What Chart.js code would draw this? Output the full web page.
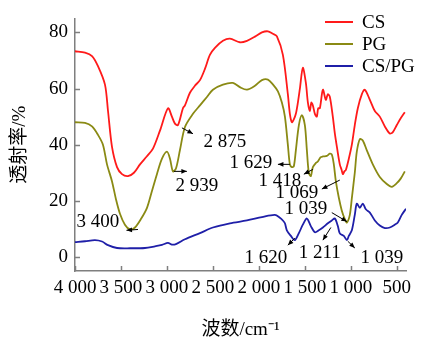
<!DOCTYPE html>
<html>
<head>
<meta charset="utf-8">
<script src="https://cdn.jsdelivr.net/npm/chart.js@4/dist/chart.umd.min.js"></script>
<style>
  html, body { margin: 0; padding: 0; background: #ffffff; }
  #wrap { width: 423px; height: 341px; }
</style>
</head>
<body>
<div id="wrap"><canvas id="c" width="423" height="341"></canvas></div>
<script>
// Axis ticks
const xTicks = [4000, 3500, 3000, 2500, 2000, 1500, 1000, 500];
const xTickLabels = ['4 000', '3 500', '3 000', '2 500', '2 000', '1 500', '1 000', '500'];
const yTicks = [0, 20, 40, 60, 80];

// CS spectrum (wavenumber / cm-1, transmittance / %)
const csWavenumber = [4000, 3891, 3815, 3750, 3674, 3641, 3598, 3543, 3489, 3424, 3359, 3293, 3220, 3152, 3076, 2989, 2946, 2913, 2880, 2826, 2804, 2750, 2696, 2641, 2587, 2533, 2478, 2391, 2315, 2207, 2130, 2043, 1967, 1902, 1848, 1804, 1739, 1685, 1663, 1641, 1620, 1598, 1576, 1554, 1522, 1489, 1467, 1446, 1430, 1413, 1391, 1370, 1355, 1337, 1304, 1272, 1250, 1228, 1196, 1174, 1152, 1120, 1100, 1087, 1070, 1054, 1022, 989, 957, 924, 880, 848, 793, 739, 685, 630, 576, 543, 500, 456, 413];
const csTransmittance = [73.3, 72.8, 71.6, 68.0, 61.4, 52.0, 39.3, 32.0, 29.5, 28.8, 30.0, 33.0, 35.8, 38.6, 45.0, 53.0, 50.0, 47.5, 47.0, 53.0, 54.0, 58.5, 61.0, 63.0, 67.0, 72.0, 74.5, 77.0, 77.8, 76.5, 77.0, 78.5, 80.0, 80.4, 79.5, 78.6, 72.0, 58.0, 51.0, 48.0, 49.0, 51.0, 55.0, 60.0, 67.4, 62.0, 55.0, 52.0, 55.0, 54.0, 51.0, 50.0, 53.0, 53.0, 59.6, 56.0, 58.0, 57.0, 50.0, 44.0, 39.3, 33.0, 31.0, 29.5, 30.5, 31.0, 35.0, 40.0, 47.0, 53.0, 58.0, 59.6, 56.0, 52.0, 50.0, 46.5, 44.0, 44.5, 47.0, 49.5, 51.6];

// PG spectrum
const pgWavenumber = [4000, 3891, 3815, 3750, 3696, 3652, 3598, 3554, 3511, 3457, 3402, 3348, 3283, 3217, 3163, 3109, 3054, 3000, 2967, 2935, 2902, 2859, 2804, 2717, 2641, 2565, 2500, 2391, 2283, 2207, 2130, 2043, 1967, 1902, 1848, 1793, 1750, 1717, 1685, 1663, 1641, 1620, 1598, 1565, 1533, 1500, 1478, 1457, 1435, 1413, 1380, 1359, 1330, 1304, 1261, 1230, 1207, 1185, 1163, 1130, 1098, 1065, 1043, 1011, 989, 957, 935, 902, 870, 826, 761, 685, 609, 554, 500, 456, 413];
const pgTransmittance = [48.0, 47.8, 46.5, 43.5, 40.0, 33.0, 27.0, 20.5, 15.4, 11.5, 9.8, 10.5, 13.5, 17.5, 23.5, 29.5, 35.0, 37.5, 35.0, 30.5, 31.5, 38.0, 46.3, 51.0, 54.0, 57.0, 59.6, 61.4, 62.0, 60.5, 59.6, 61.0, 63.0, 63.2, 61.5, 59.0, 55.0, 50.0, 40.0, 33.0, 32.0, 32.3, 38.0, 47.0, 50.5, 47.0, 38.0, 30.0, 28.8, 32.0, 33.5, 34.0, 35.5, 35.8, 36.0, 36.8, 36.5, 33.0, 27.0, 21.0, 16.5, 13.5, 12.3, 15.0, 21.0, 30.0, 37.5, 42.0, 41.5, 38.0, 33.0, 28.5, 26.0, 25.0, 26.3, 28.0, 30.5];

// CS/PG spectrum
const cspgWavenumber = [4000, 3891, 3783, 3706, 3641, 3543, 3402, 3239, 3130, 3054, 2989, 2946, 2902, 2804, 2641, 2500, 2315, 2130, 1967, 1826, 1772, 1739, 1717, 1696, 1652, 1609, 1565, 1522, 1478, 1435, 1391, 1348, 1304, 1250, 1207, 1174, 1141, 1120, 1076, 1043, 1022, 989, 957, 935, 902, 870, 837, 793, 739, 685, 630, 576, 522, 489, 446, 400];
const cspgTransmittance = [5.3, 5.6, 6.0, 5.5, 4.2, 3.2, 3.1, 3.2, 3.8, 4.3, 5.0, 4.4, 4.6, 6.3, 8.5, 10.5, 12.0, 13.0, 14.2, 15.0, 14.0, 13.0, 12.0, 9.5, 7.5, 6.0, 8.5, 11.5, 13.7, 11.0, 8.8, 9.5, 10.5, 12.0, 13.0, 13.7, 11.0, 8.4, 7.5, 6.0, 7.5, 9.5, 15.0, 19.0, 17.5, 19.0, 17.0, 15.8, 13.0, 11.2, 10.3, 10.5, 11.5, 12.3, 15.0, 17.2];

// Peak assignments: label text, label centre and arrow ends in data units
const peakNotes = [
  { text: '2 875', at: [2370, 41.0], from: [2837, 46.0], to: [2717, 43.9] },
  { text: '2 939', at: [2674, 25.3], from: [2924, 30.5], to: [2783, 30.5] },
  { text: '3 400', at: [3750, 12.3], from: [3315, 9.8], to: [3440, 9.5] },
  { text: '1 629', at: [2087, 33.3], from: [1663, 33.0], to: [1793, 33.0] },
  { text: '1 418', at: [1772, 27.0], from: [1413, 31.2], to: [1511, 29.5] },
  { text: '1 069', at: [1587, 22.8], from: [1120, 27.4], to: [1315, 24.2] },
  { text: '1 039', at: [1489, 17.2], from: [1207, 15.8], to: [1043, 12.6] },
  { text: '1 620', at: [1924, -0.35], from: [1609, 6.7], to: [1685, 4.2] },
  { text: '1 211', at: [1337, 1.4], from: [1217, 10.5], to: [1304, 6.0] },
  { text: '1 039', at: [663, -0.35], from: [1033, 5.6], to: [957, 3.2] }
];

const serif = "'Liberation Serif', 'Times New Roman', 'Noto Sans CJK SC', serif";
const pts = (xs, ys) => xs.map((x, i) => ({ x: x, y: ys[i] }));

// Inward tick marks on both axes
const tickMarks = {
  id: 'tickMarks',
  afterDraw(chart) {
    const { ctx, scales: { x, y } } = chart;
    ctx.save();
    ctx.strokeStyle = '#7f7f7f';
    ctx.lineWidth = 1.5;
    ctx.beginPath();
    xTicks.forEach(v => {
      const px = Math.round(x.getPixelForValue(v)) + 0.5;
      ctx.moveTo(px, y.bottom);
      ctx.lineTo(px, y.bottom - 5);
    });
    yTicks.forEach(v => {
      const py = Math.round(y.getPixelForValue(v)) + 0.5;
      ctx.moveTo(x.left, py);
      ctx.lineTo(x.left + 5, py);
    });
    ctx.stroke();
    ctx.restore();
  }
};

// Legend in the upper-right corner of the plot
const cornerLegend = {
  id: 'cornerLegend',
  afterDraw(chart) {
    const { ctx } = chart;
    ctx.save();
    ctx.font = '19px ' + serif;
    ctx.textBaseline = 'middle';
    ctx.textAlign = 'left';
    chart.data.datasets.forEach((ds, i) => {
      const yy = 22 + i * 22;
      ctx.strokeStyle = ds.borderColor;
      ctx.lineWidth = 2;
      ctx.beginPath();
      ctx.moveTo(325, yy);
      ctx.lineTo(353, yy);
      ctx.stroke();
      ctx.fillStyle = '#000';
      ctx.fillText(ds.label, 362, yy + 1);
    });
    ctx.restore();
  }
};

// Peak labels with small arrows
const peakLabels = {
  id: 'peakLabels',
  afterDatasetsDraw(chart) {
    const { ctx, scales: { x, y } } = chart;
    const P = p => [x.getPixelForValue(p[0]), y.getPixelForValue(p[1])];
    ctx.save();
    ctx.font = '19px ' + serif;
    ctx.textAlign = 'center';
    ctx.textBaseline = 'middle';
    ctx.fillStyle = '#000';
    ctx.strokeStyle = '#000';
    ctx.lineWidth = 1;
    peakNotes.forEach(n => {
      const [tx, ty] = P(n.at);
      ctx.fillText(n.text, tx, ty);
      const [x0, y0] = P(n.from);
      const [x1, y1] = P(n.to);
      ctx.beginPath();
      ctx.moveTo(x0, y0);
      ctx.lineTo(x1, y1);
      ctx.stroke();
      const a = Math.atan2(y1 - y0, x1 - x0);
      const h = 6;
      ctx.beginPath();
      ctx.moveTo(x1, y1);
      ctx.lineTo(x1 - h * Math.cos(a - 0.4), y1 - h * Math.sin(a - 0.4));
      ctx.lineTo(x1 - h * Math.cos(a + 0.4), y1 - h * Math.sin(a + 0.4));
      ctx.closePath();
      ctx.fill();
    });
    ctx.restore();
  }
};

new Chart(document.getElementById('c'), {
  type: 'line',
  data: {
    datasets: [
      { label: 'CS', data: pts(csWavenumber, csTransmittance), borderColor: '#ff1a1a' },
      { label: 'PG', data: pts(pgWavenumber, pgTransmittance), borderColor: '#8a8a14' },
      { label: 'CS/PG', data: pts(cspgWavenumber, cspgTransmittance), borderColor: '#1f1fa8' }
    ]
  },
  options: {
    responsive: false,
    animation: false,
    devicePixelRatio: 1,
    parsing: true,
    elements: {
      point: { radius: 0 },
      line: { borderWidth: 1.8, tension: 0.3, fill: false }
    },
    layout: { padding: { left: 0, right: 17, top: 15, bottom: 0 } },
    plugins: { legend: { display: false }, tooltip: { enabled: false } },
    scales: {
      x: {
        type: 'linear',
        reverse: true,
        min: 400,
        max: 4000,
        afterBuildTicks: s => { s.ticks = xTicks.map(v => ({ value: v })); },
        afterFit: s => { s.height = 70; },
        ticks: {
          autoSkip: false,
          maxRotation: 0,
          padding: 6,
          color: '#000',
          font: { family: serif, size: 19 },
          callback: v => xTickLabels[xTicks.indexOf(v)]
        },
        grid: { display: true, drawOnChartArea: false, drawTicks: false },
        border: { display: true, color: '#7f7f7f', width: 1.5 },
        title: {
          display: true,
          text: '波数/cm⁻¹',
          color: '#000',
          font: { family: serif, size: 19 },
          padding: { top: 0, bottom: 0 }
        }
      },
      y: {
        type: 'linear',
        min: -5,
        max: 85,
        afterBuildTicks: s => { s.ticks = yTicks.map(v => ({ value: v })); },
        afterFit: s => { s.width = 75; },
        ticks: {
          padding: 7,
          color: '#000',
          font: { family: serif, size: 19 }
        },
        grid: { display: true, drawOnChartArea: false, drawTicks: false },
        border: { display: true, color: '#7f7f7f', width: 1.5 },
        title: {
          display: true,
          text: '透射率/%',
          color: '#000',
          font: { family: serif, size: 19 },
          padding: { top: 9, bottom: 0 }
        }
      }
    }
  },
  plugins: [tickMarks, cornerLegend, peakLabels]
});
</script>
</body>
</html>
